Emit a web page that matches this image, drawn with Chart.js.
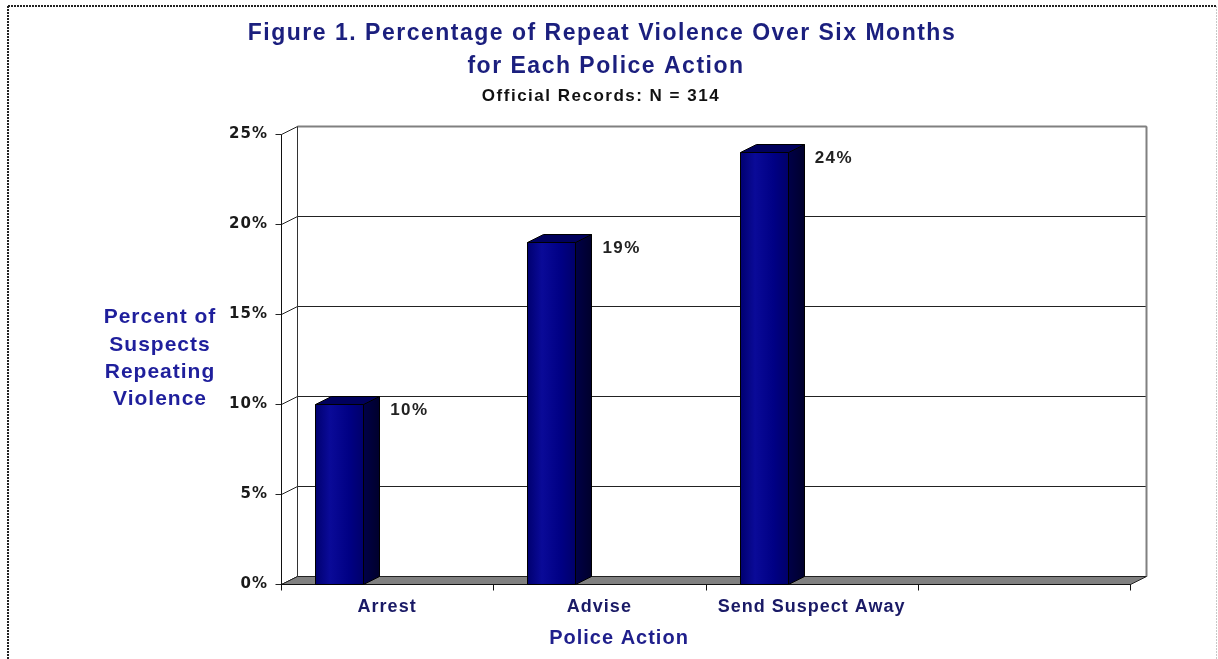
<!DOCTYPE html>
<html>
<head>
<meta charset="utf-8">
<script src="https://cdn.jsdelivr.net/npm/chart.js@4"></script>
<style>
  html, body { margin: 0; padding: 0; background: #fff; }
  #wrap { width: 1218px; height: 659px; position: relative; }
</style>
</head>
<body>
<div id="wrap"><canvas id="chart"></canvas></div>
<script>
// Chart data
const categories = ['Arrest', 'Advise', 'Send Suspect Away', ''];
const repeatPct = [10, 19, 24, null];
const yTicks = [0, 5, 10, 15, 20, 25];

// Text
const titleLines = ['Figure 1. Percentage of Repeat Violence Over Six Months', 'for Each Police Action'];
const subtitle = 'Official Records: N = 314';
const yTitleLines = ['Percent of', 'Suspects', 'Repeating', 'Violence'];
const xTitle = 'Police Action';

// Depth of the 3D walls and columns, and how far columns sit left of the category centre
const DX = 16, DY = -8;
const BAR_SHIFT = -48;

const FONT = "'Liberation Sans', Arial, sans-serif";

function line(ctx, x1, y1, x2, y2) {
  ctx.beginPath();
  ctx.moveTo(x1, y1);
  ctx.lineTo(x2, y2);
  ctx.stroke();
}

function poly(ctx, pts, fill, stroke) {
  ctx.beginPath();
  ctx.moveTo(pts[0][0], pts[0][1]);
  for (let i = 1; i < pts.length; i++) ctx.lineTo(pts[i][0], pts[i][1]);
  ctx.closePath();
  ctx.fillStyle = fill;
  ctx.fill();
  if (stroke) {
    ctx.strokeStyle = stroke;
    ctx.lineWidth = 1;
    ctx.stroke();
  }
}

// Draws the 3D box (walls, floor, columns) and all free text
const box3d = {
  id: 'box3d',
  beforeDraw(chart) {
    const ctx = chart.ctx;
    ctx.save();
    ctx.fillStyle = '#fff';
    ctx.fillRect(0, 0, chart.width, chart.height);
    // dotted frame
    ctx.setLineDash([2, 1]);
    ctx.lineWidth = 2;
    ctx.strokeStyle = '#222';
    line(ctx, 8, 6, 1216, 6);
    line(ctx, 8, 6, 8, chart.height);
    ctx.strokeStyle = '#c8c8c8';
    ctx.lineWidth = 1;
    line(ctx, 1216.5, 6, 1216.5, chart.height);
    ctx.restore();
    ctx.letterSpacing = '1px';
  },
  beforeDatasetsDraw(chart) {
    const { ctx, chartArea: a, scales: { x, y } } = chart;
    const left = a.left + 0.5, right = a.right + 0.5, bottom = a.bottom + 0.5;
    const top = y.getPixelForValue(yTicks[yTicks.length - 1]) + 0.5;
    ctx.save();
    ctx.setLineDash([]);

    // back wall grid lines, side-wall diagonals and front tick marks
    ctx.lineWidth = 1;
    yTicks.forEach(v => {
      const py = Math.round(y.getPixelForValue(v)) + 0.5;
      ctx.strokeStyle = '#222';
      if (v > 0) line(ctx, left + DX, py + DY, right + DX, py + DY);
      line(ctx, left, py, left + DX, py + DY);
      line(ctx, left - 6, py, left, py);
    });

    // back wall frame
    ctx.strokeStyle = '#808080';
    ctx.lineWidth = 2;
    line(ctx, left + DX, top + DY, right + DX, top + DY);
    line(ctx, right + DX, top + DY, right + DX, bottom + DY);
    ctx.lineWidth = 1;
    ctx.strokeStyle = '#333';
    line(ctx, left + DX, top + DY, left + DX, bottom + DY);

    // floor
    poly(ctx, [[left, bottom], [right, bottom], [right + DX, bottom + DY], [left + DX, bottom + DY]], '#808080', '#222');

    // front axis lines and category ticks
    ctx.strokeStyle = '#111';
    line(ctx, left, top, left, bottom + 6);
    line(ctx, left, bottom, right, bottom);
    const n = categories.length;
    for (let i = 1; i <= n; i++) {
      const px = Math.round(x.getPixelForValue(i - 1) + (right - left) / n / 2) + 0.5;
      line(ctx, px, bottom, px, bottom + 6);
    }

    // 3D columns
    const meta = chart.getDatasetMeta(0);
    meta.data.forEach((bar, i) => {
      if (repeatPct[i] == null) return;
      const w = bar.width;
      const x0 = Math.round(bar.x + BAR_SHIFT - w / 2) + 0.5;
      const x1 = x0 + w;
      const t = Math.round(bar.y) + 0.5;
      const b = bottom;
      // side face
      const side = ctx.createLinearGradient(x1, 0, x1 + DX, 0);
      side.addColorStop(0, '#000048');
      side.addColorStop(1, '#00002c');
      poly(ctx, [[x1, t], [x1 + DX, t + DY], [x1 + DX, b + DY], [x1, b]], side, '#000');
      // top face
      poly(ctx, [[x0, t], [x1, t], [x1 + DX, t + DY], [x0 + DX, t + DY]], '#00005c', '#000');
      // front face
      const front = ctx.createLinearGradient(x0, 0, x1, 0);
      front.addColorStop(0, '#000070');
      front.addColorStop(0.3, '#0a0a98');
      front.addColorStop(0.7, '#000084');
      front.addColorStop(1, '#00006a');
      poly(ctx, [[x0, t], [x1, t], [x1, b], [x0, b]], front, '#000');

      // value label
      ctx.fillStyle = '#222';
      ctx.font = `bold 17px ${FONT}`;
      ctx.letterSpacing = '1.5px';
      ctx.textAlign = 'left';
      ctx.textBaseline = 'middle';
      ctx.fillText(repeatPct[i] + '%', bar.x + 3, bar.y + 6);
    });

    ctx.restore();
    return false;
  },
  afterDraw(chart) {
    const ctx = chart.ctx;
    ctx.save();
    ctx.textAlign = 'center';
    ctx.textBaseline = 'middle';

    ctx.fillStyle = '#1b1f7e';
    ctx.font = `bold 23px ${FONT}`;
    ctx.letterSpacing = '1.5px';
    ctx.fillText(titleLines[0], 602, 34);
    ctx.fillText(titleLines[1], 606, 67);

    ctx.fillStyle = '#111';
    ctx.font = `bold 17px ${FONT}`;
    ctx.letterSpacing = '1.5px';
    ctx.fillText(subtitle, 601, 96);

    ctx.fillStyle = '#1f1f9c';
    ctx.font = `bold 21px ${FONT}`;
    ctx.letterSpacing = '1px';
    const ys = [317, 345, 372, 399];
    yTitleLines.forEach((s, i) => ctx.fillText(s, 160, ys[i]));

    ctx.fillStyle = '#1f1f8c';
    ctx.font = `bold 20px ${FONT}`;
    ctx.letterSpacing = '1px';
    ctx.fillText(xTitle, 619, 638);
    ctx.restore();
  }
};

new Chart(document.getElementById('chart'), {
  type: 'bar',
  data: {
    labels: categories,
    datasets: [{
      data: repeatPct,
      backgroundColor: '#000080',
      barThickness: 48
    }]
  },
  options: {
    responsive: true,
    maintainAspectRatio: false,
    animation: false,
    layout: { padding: { top: 134, right: 88, left: 0, bottom: 0 } },
    plugins: {
      legend: { display: false },
      tooltip: { enabled: false },
      title: { display: false }
    },
    scales: {
      x: {
        grid: { display: false },
        border: { display: false },
        ticks: {
          color: '#1a1a66',
          font: { family: FONT, size: 18, weight: 'bold' },
          padding: 4,
          maxRotation: 0,
          autoSkip: false
        },
        afterFit: s => { s.height = 75; }
      },
      y: {
        min: 0,
        max: 25,
        grid: { display: false },
        border: { display: false },
        afterBuildTicks: s => { s.ticks = yTicks.map(v => ({ value: v })); },
        ticks: {
          callback: v => v + '%',
          color: '#1a1a1a',
          font: { family: "'DejaVu Sans', sans-serif", size: 15, weight: 'bold' },
          padding: 5
        },
        afterFit: s => { s.width = 281; }
      }
    }
  },
  plugins: [box3d]
});
</script>
</body>
</html>
